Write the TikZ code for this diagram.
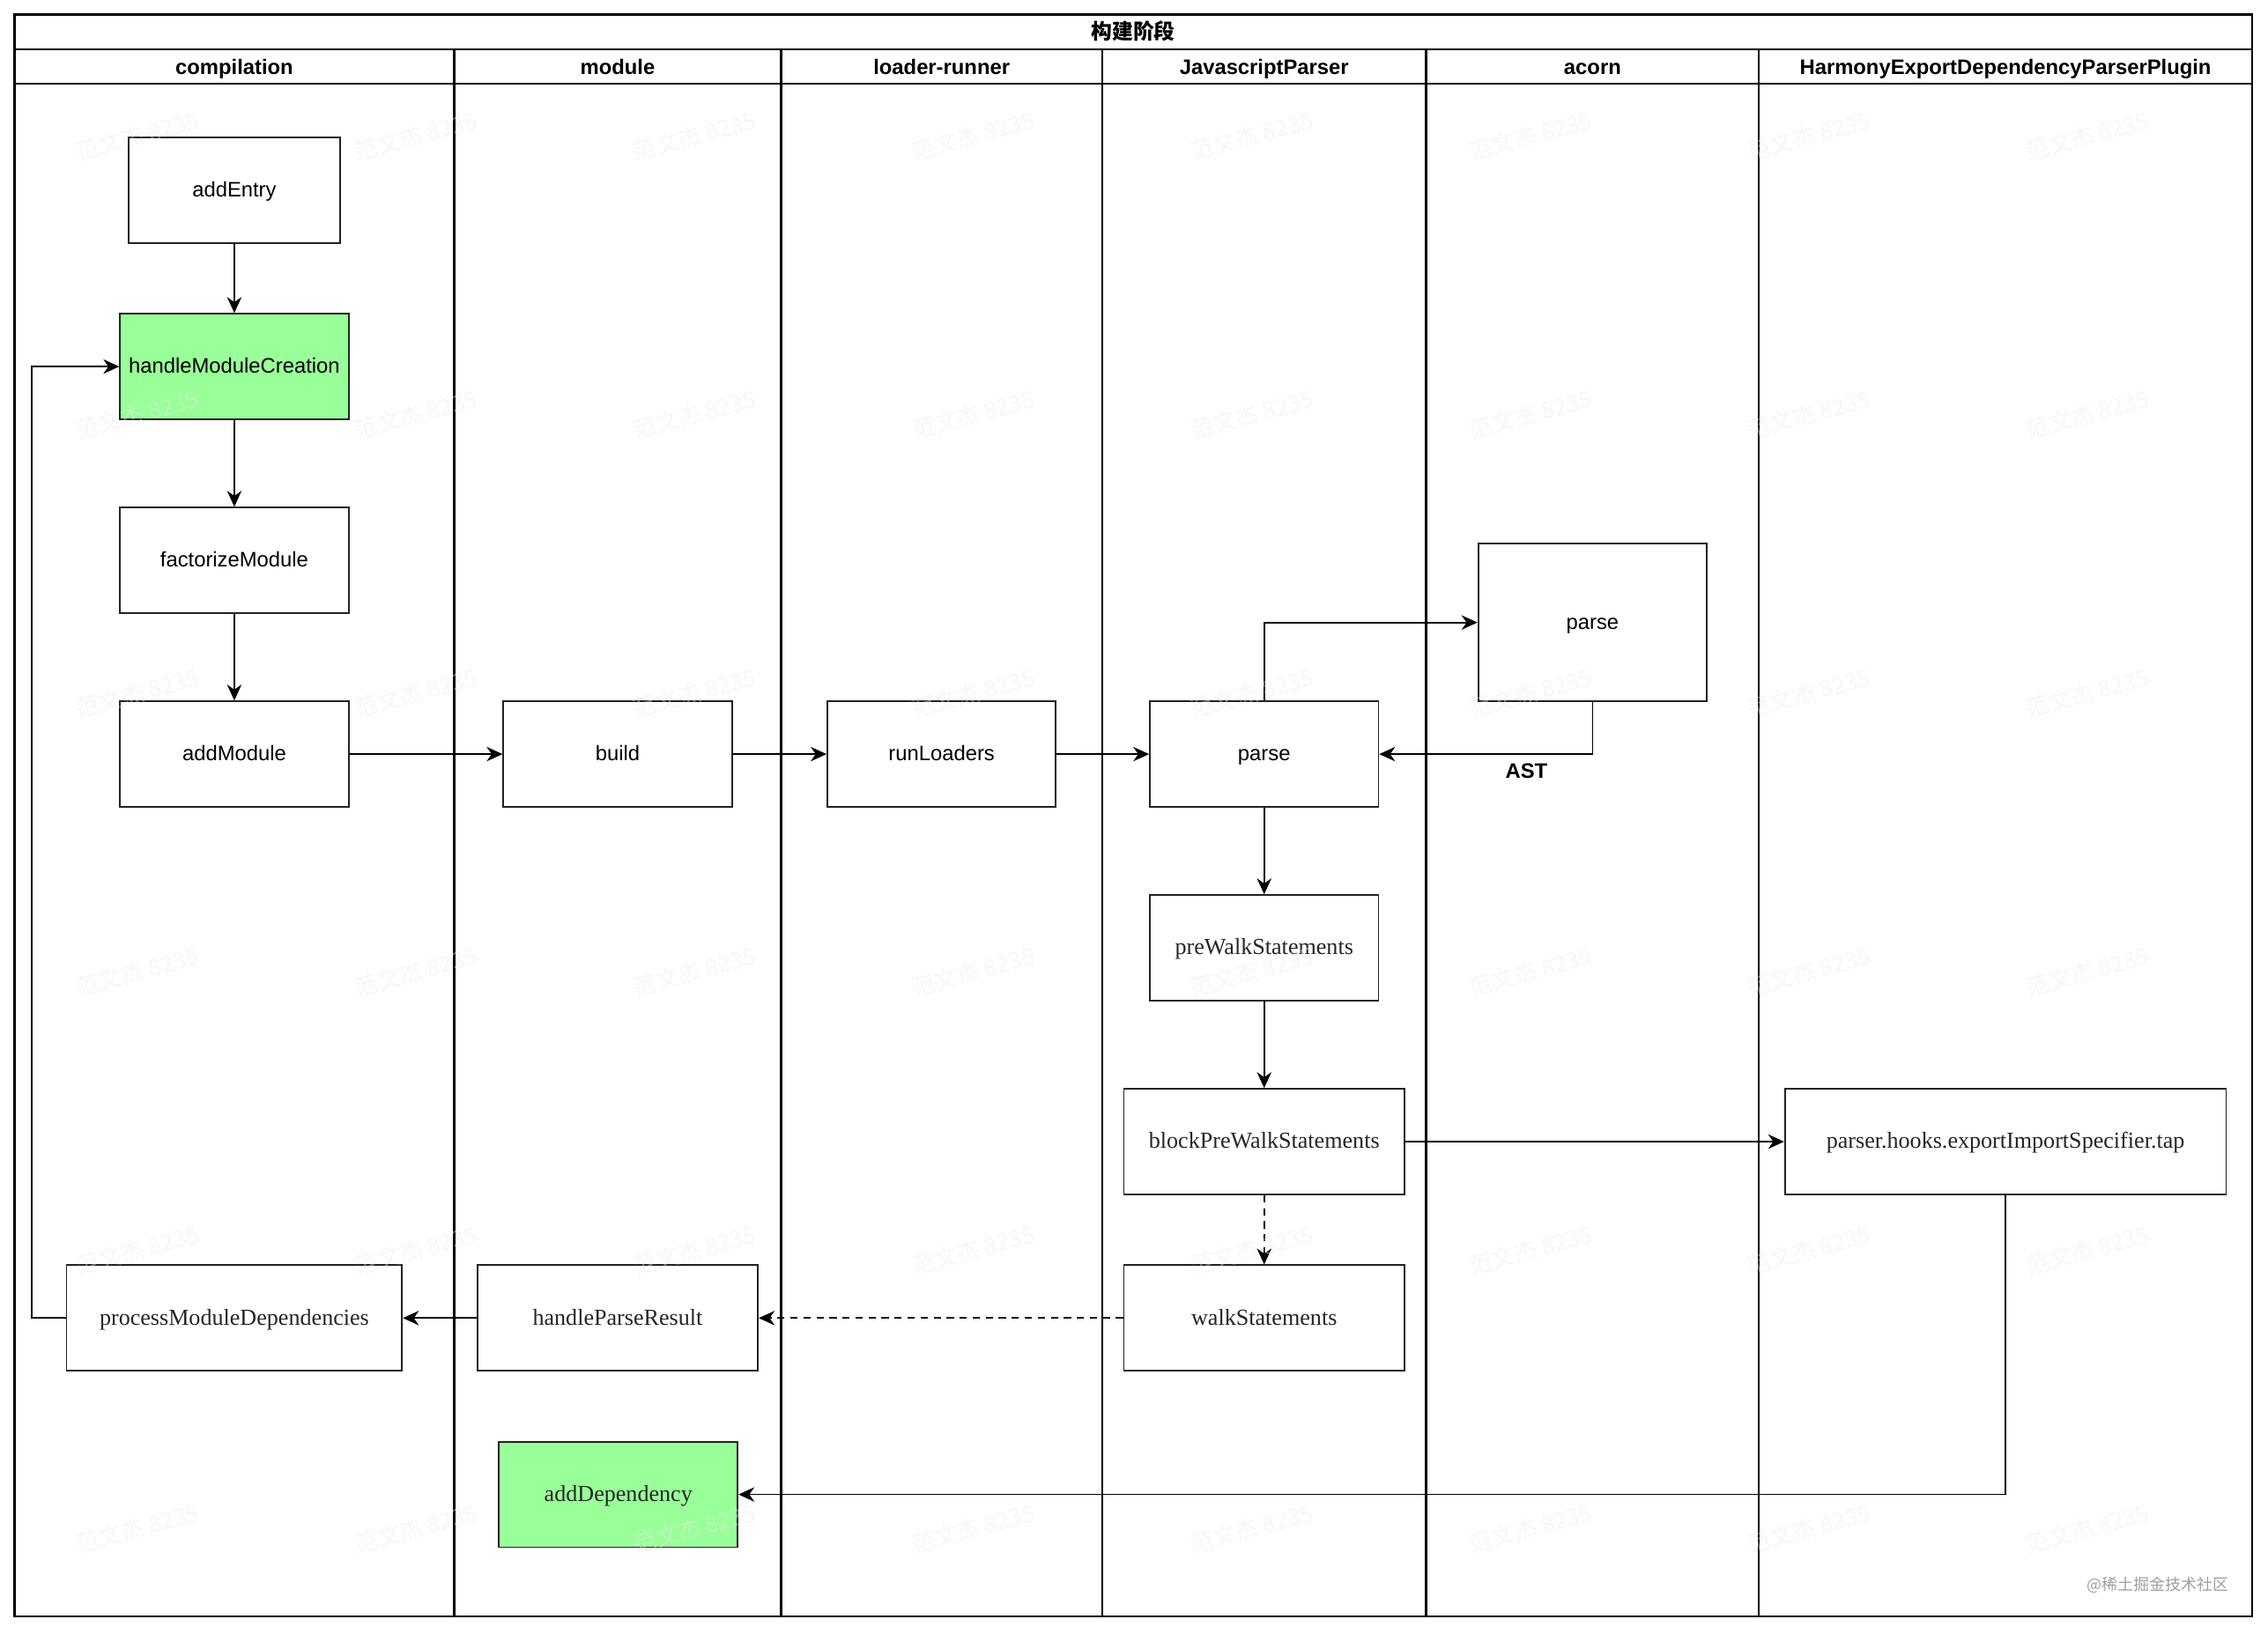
\documentclass[tikz,border=0pt]{standalone}
\usepackage{fontspec}
\setmainfont{Liberation Serif}
\setsansfont{Liberation Sans}
\newfontfamily\cjk{Noto Sans CJK SC}
\usetikzlibrary{arrows.meta}
\definecolor{lgreen}{HTML}{99FF99}
\definecolor{strokec}{HTML}{222222}
\begin{document}
\begin{tikzpicture}[x=1pt,y=-1pt,
  box/.style={draw=strokec, line width=1.1pt, fill=white, minimum height=73pt, inner sep=0pt,
    text height=11.5pt, text depth=2pt,
    font=\sffamily\fontsize{14.5}{17}\selectfont},
  sbox/.style={box, font=\rmfamily\fontsize{15.9}{18}\selectfont, text=black!85},
  gbox/.style={fill=lgreen},
  conn/.style={line width=1.1pt, draw=black, -{Stealth[length=11pt,width=10pt,inset=3.5pt]}},
  dconn/.style={conn, dash pattern=on 5pt off 4pt},
  lane/.style={line width=1.4pt, draw=black},
  hdr/.style={font=\sffamily\bfseries\fontsize{14.5}{17}\selectfont, inner sep=0pt, text height=11.5pt, text depth=2pt},
  wmark/.style={font=\cjk\fontsize{16}{18}\selectfont, text=gray!15, opacity=0.4, rotate=15}
]
\useasboundingbox (0,0) rectangle (1568,1129.4);
\fill[white] (0,0) rectangle (1568,1129.4);

% pool frame
\draw[lane] (10,10) rectangle (1557,1118);
\draw[lane] (10,34) -- (1557,34);
\draw[lane] (10,58) -- (1557,58);
\foreach \xx in {314,540,762,986,1216} \draw[lane] (\xx,34) -- (\xx,1118);

\node[font=\cjk\bfseries\fontsize{14.5}{17}\selectfont, inner sep=0pt] (title) at (783.5,21.5) {构建阶段};
\node[hdr] (h1) at (162,46.5) {compilation};
\node[hdr] (h2) at (427,46.5) {module};
\node[hdr] (h3) at (651,46.5) {loader-runner};
\node[hdr] (h4) at (874,46.5) {JavascriptParser};
\node[hdr] (h5) at (1101,46.5) {acorn};
\node[hdr] (h6) at (1386.5,46.5) {HarmonyExportDependencyParserPlugin};

% nodes
\node[box, minimum width=146pt] (entry) at (162,131.5) {addEntry};
\node[box, gbox, minimum width=158pt] (hmc) at (162,253.5) {handleModuleCreation};
\node[box, minimum width=158pt] (fact) at (162,387.5) {factorizeModule};
\node[box, minimum width=158pt] (addmod) at (162,521.5) {addModule};
\node[box, minimum width=158pt] (build) at (427,521.5) {build};
\node[box, minimum width=158pt] (runl) at (651,521.5) {runLoaders};
\node[box, minimum width=158pt] (jsp) at (874,521.5) {parse};
\node[box, minimum width=158pt, minimum height=109pt] (acp) at (1101,430.5) {parse};
\node[sbox, minimum width=158pt] (prew) at (874,655.5) {preWalkStatements};
\node[sbox, minimum width=194pt] (bprew) at (874,789.5) {blockPreWalkStatements};
\node[sbox, minimum width=305pt] (tap) at (1386.5,789.5) {parser.hooks.exportImportSpecifier.tap};
\node[sbox, minimum width=194pt] (walk) at (874,911.5) {walkStatements};
\node[sbox, minimum width=194pt] (hpr) at (427,911.5) {handleParseResult};
\node[sbox, minimum width=232pt] (pmd) at (162,911.5) {processModuleDependencies};
\node[sbox, gbox, minimum width=165pt] (adddep) at (427.5,1033.5) {addDependency};

\coordinate (loop) at (22,911.5);

% connectors
\draw[conn] (entry) -- (hmc);
\draw[conn] (hmc) -- (fact);
\draw[conn] (fact) -- (addmod);
\draw[conn] (addmod) -- (build);
\draw[conn] (build) -- (runl);
\draw[conn] (runl) -- (jsp);
\draw[conn] (jsp.north) |- (acp.west);
\draw[conn] (acp.south) |- node[pos=0.655, below=6pt, font=\sffamily\bfseries\fontsize{14.5}{17}\selectfont, inner sep=0pt] (ast) {AST} (jsp.east);
\draw[conn] (jsp) -- (prew);
\draw[conn] (prew) -- (bprew);
\draw[dconn] (bprew) -- (walk);
\draw[conn] (bprew) -- (tap);
\draw[dconn] (walk) -- (hpr);
\draw[conn] (hpr) -- (pmd);
\draw[conn] (pmd.west) -- (loop) |- (hmc.west);
\draw[conn] (tap.south) |- (adddep.east);

% watermarks
\foreach \i in {0,...,7}{
  \foreach \j in {0,...,5}{
    \node[wmark] at ({95+192.6*\i},{94+192.6*\j}) {范文杰 8235};
  }
}
\node[font=\cjk\fontsize{11}{13}\selectfont, text=gray!75, inner sep=0pt] (site) at (1492,1096) {@稀土掘金技术社区};
\end{tikzpicture}
\end{document}
